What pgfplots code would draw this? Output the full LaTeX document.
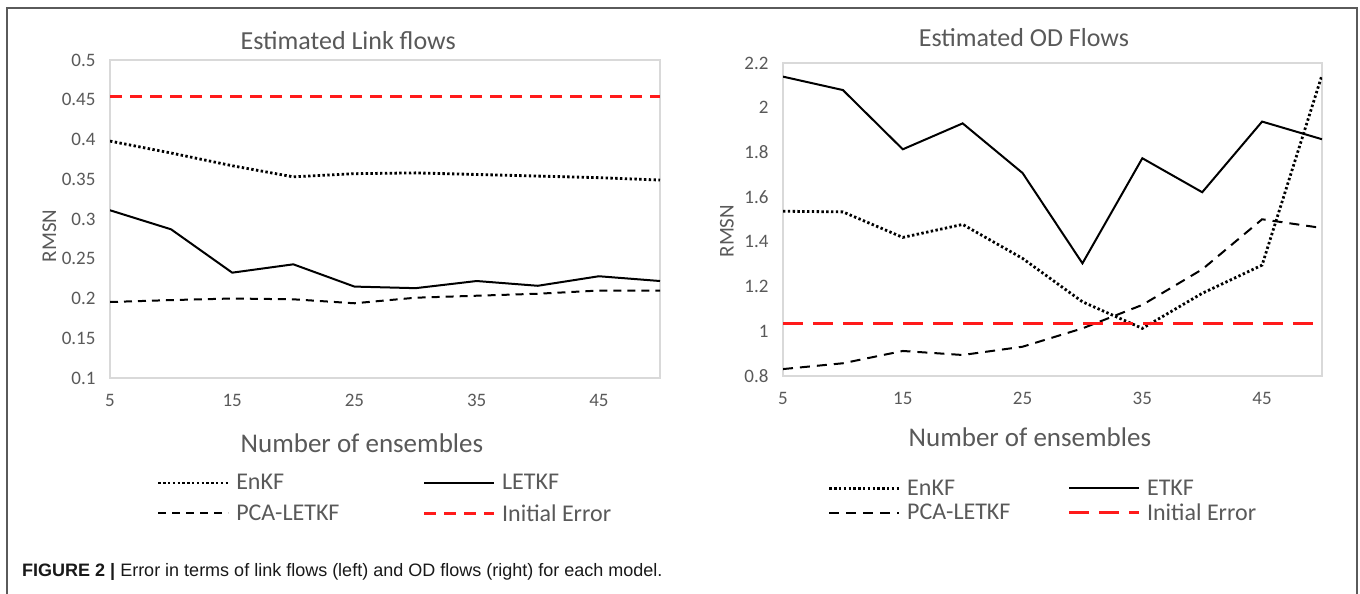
\documentclass[border=0pt]{standalone}
\usepackage{fontspec}
\setmainfont{Carlito}
\newfontfamily\capfont{Liberation Sans}
\usepackage{pgfplots}
\pgfplotsset{compat=1.18}
\definecolor{txtgray}{HTML}{595959}
\definecolor{axgray}{HTML}{D9D9D9}
\definecolor{frgray}{HTML}{5A5A5A}
\definecolor{initred}{HTML}{FF1A1A}
\pgfplotsset{
  mystyle/.style={
    scale only axis,
    xmin=5, xmax=50,
    xtick={5,15,25,35,45},
    axis line style={draw=axgray, line width=1.3bp},
    major tick length=0pt,
    tick style={draw=none},
    /pgf/number format/assume math mode=true,
    every tick label/.append style={font=\fontsize{19bp}{22bp}\selectfont, text=txtgray},
    xticklabel style={yshift=-13bp},
    yticklabel style={xshift=-11bp},
    title style={font=\fontsize{26bp}{30bp}\selectfont, text=txtgray, anchor=center},
    xlabel style={font=\fontsize{27bp}{32bp}\selectfont, text=txtgray, anchor=center},
    ylabel style={font=\fontsize{21bp}{25bp}\selectfont, text=txtgray, anchor=center},
    legend columns=2,
    legend style={draw=none, fill=none, anchor=north west, inner sep=0pt,
      font=\fontsize{24bp}{28bp}\selectfont, text=txtgray,
      nodes={inner sep=1.5bp},
      /tikz/every odd column/.append style={column sep=5bp}},
    legend cell align=left,
    legend image code/.code={\draw[##1] (0bp,0bp) -- (70bp,0bp);},
  },
  dotsty/.style={black, line width=2.8bp, dash pattern=on 2.4bp off 2.4bp},
  solsty/.style={black, line width=2bp},
  dashsty/.style={black, line width=2bp, dash pattern=on 8bp off 6bp},
}
\begin{document}
\begin{tikzpicture}
\useasboundingbox (0,0) rectangle (1360bp,-594bp);
\fill[white] (0,0) rectangle (1360bp,-594bp);
\draw[frgray, line width=1.6bp] (7bp,-600bp) -- (7bp,-8bp) -- (1357bp,-8bp) -- (1357bp,-600bp);

% Left chart
\begin{axis}[mystyle,
  at={(110bp,-378bp)}, anchor=south west,
  width=550bp, height=318bp,
  ymin=0.1, ymax=0.5,
  ytick={0.1,0.15,0.2,0.25,0.3,0.35,0.4,0.45,0.5},
  yticklabel style={/pgf/number format/.cd, fixed, precision=2},
  title={Estimated Link flows},
  title style={at={(axis description cs:0.433,1.041)}},
  xlabel={Number of ensembles},
  xlabel style={at={(axis description cs:0.458,-0.204)}},
  ylabel={RMSN},
  ylabel style={at={(axis description cs:-0.110,0.447)}},
  legend style={at={(axis description cs:0.085,-0.298)}, row sep=10bp,
    /tikz/every even column/.append style={column sep=82bp}},
]
\addplot[dotsty] coordinates {(5,0.398) (10,0.383) (15,0.367) (20,0.353) (25,0.357) (30,0.358) (35,0.356) (40,0.354) (45,0.352) (50,0.349)};
\addlegendentry{EnKF}
\addplot[solsty] coordinates {(5,0.311) (10,0.287) (15,0.2325) (20,0.243) (25,0.215) (30,0.213) (35,0.222) (40,0.216) (45,0.228) (50,0.222)};
\addlegendentry{LETKF}
\addplot[dashsty] coordinates {(5,0.1956) (10,0.198) (15,0.200) (20,0.199) (25,0.194) (30,0.201) (35,0.2035) (40,0.206) (45,0.210) (50,0.210)};
\addlegendentry{PCA-LETKF}
\addplot[initred, line width=2.6bp, dash pattern=on 12bp off 8bp] coordinates {(5,0.454) (10,0.454) (15,0.454) (20,0.454) (25,0.454) (30,0.454) (35,0.454) (40,0.454) (45,0.454) (50,0.454)};
\addlegendentry{Initial Error}
\end{axis}

% Right chart
\begin{axis}[mystyle,
  at={(783bp,-376bp)}, anchor=south west,
  width=539bp, height=313bp,
  ymin=0.8, ymax=2.2,
  ytick={0.8,1,1.2,1.4,1.6,1.8,2,2.2},
  title={Estimated OD Flows},
  title style={at={(axis description cs:0.447,1.061)}},
  xlabel={Number of ensembles},
  xlabel style={at={(axis description cs:0.458,-0.195)}},
  ylabel={RMSN},
  ylabel style={at={(axis description cs:-0.104,0.463)}},
  legend style={at={(axis description cs:0.083,-0.326)}, row sep=4bp,
    /tikz/every even column/.append style={column sep=56bp}},
]
\addplot[dotsty] coordinates {(5,1.537) (10,1.534) (15,1.420) (20,1.478) (25,1.326) (30,1.132) (35,1.013) (40,1.170) (45,1.296) (50,2.146)};
\addlegendentry{EnKF}
\addplot[solsty] coordinates {(5,2.139) (10,2.079) (15,1.814) (20,1.930) (25,1.708) (30,1.304) (35,1.774) (40,1.622) (45,1.938) (50,1.859)};
\addlegendentry{ETKF}
\addplot[dashsty, dash pattern=on 10bp off 7bp] coordinates {(5,0.831) (10,0.857) (15,0.912) (20,0.894) (25,0.931) (30,1.013) (35,1.118) (40,1.277) (45,1.501) (50,1.462)};
\addlegendentry{PCA-LETKF}
\addplot[initred, line width=2.6bp, dash pattern=on 20bp off 10bp] coordinates {(5,1.036) (10,1.036) (15,1.036) (20,1.036) (25,1.036) (30,1.036) (35,1.036) (40,1.036) (45,1.036) (50,1.036)};
\addlegendentry{Initial Error}
\end{axis}

\node[anchor=west, inner sep=0pt, text=black!90] at (22bp,-572bp)
  {\capfont\fontsize{18bp}{21bp}\selectfont\textbf{FIGURE 2 |} Error in terms of link flows (left) and OD flows (right) for each model.};
\end{tikzpicture}
\end{document}
